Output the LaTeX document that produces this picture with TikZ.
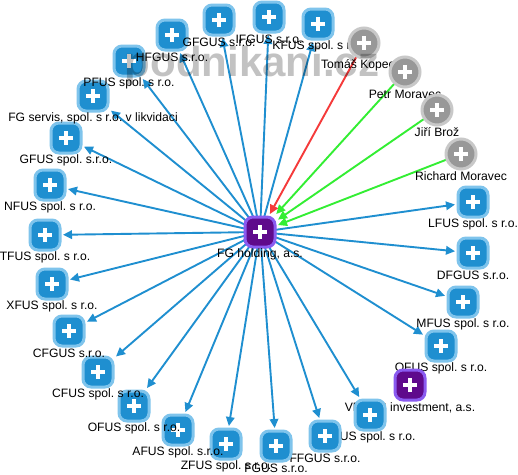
\documentclass[tikz,border=0pt]{standalone}
\usepackage{fontspec}
\setmainfont{Liberation Sans}
\usetikzlibrary{arrows.meta}
\tikzset{
 x=1pt,y=-1pt,
 org/.style={draw=boxedge,line width=3pt,fill=boxblue,rounded corners=8pt,minimum size=30pt,inner sep=0pt,outer sep=1.5pt},
 hold/.style={org,draw=holdedge,fill=holdfill},
 pers/.style={circle,draw=persedge,line width=3pt,fill=persfill,minimum size=30pt,inner sep=0pt,outer sep=1.5pt},
 lab/.style={font=\fontsize{12.15}{12.15}\selectfont,text=black,inner sep=0pt},
 own/.style={draw=boxblue,line width=1.9pt,-{Triangle[length=9pt,width=8.5pt]}},
 gr/.style={own,draw=lgreen},
 rd/.style={own,draw=lred},
 pl/.style={line width=3.6pt,white},
 anchorbox/.style={minimum size=36pt,inner sep=0pt,outer sep=0pt},
 anchorcirc/.style={circle,minimum size=36pt,inner sep=0pt,outer sep=0pt}
}
\definecolor{boxblue}{HTML}{1F8FD0}
\definecolor{boxedge}{HTML}{7FC4EC}
\definecolor{holdedge}{HTML}{8A5BF0}
\definecolor{holdfill}{HTML}{5F0A8C}
\definecolor{persedge}{HTML}{C8C8C8}
\definecolor{persfill}{HTML}{989898}
\definecolor{lgreen}{HTML}{33EE33}
\definecolor{lred}{HTML}{F53A3A}
\newcommand{\ent}[5]{% style, name, x, y, label
 \node[#1] (#2) at (#3,#4) {};
 \draw[pl] ([xshift=-7pt]#2.center) -- ([xshift=7pt]#2.center);
 \draw[pl] ([yshift=-7pt]#2.center) -- ([yshift=7pt]#2.center);
 \node[lab] (#2L) at (#3,#4+22.5) {#5};
}
\begin{document}
\frenchspacing
\begin{tikzpicture}
\useasboundingbox (0,0) rectangle (518,474);
\fill[white] (0,0) rectangle (518,474);
\node[anchorbox] (hub) at (260,232) {};
\foreach \n/\x/\y in {a/276/446,b/226/444,c/178/430,d/134/406,e/98/372,f/69/331,g/52/284,h/45/235,i/50/185,j/66/138,k/93/96,l/129/61,m/172/35,n/219/20,o/269/17,p/318/24,v/473/202,w/473/253,x/463/302,y/441/346,z/370/415,u/325/436}
 {\node[anchorbox] (t\n) at (\x,\y) {};
  \draw[own] (hub.center) -- (t\n);}
\foreach \n/\x/\y in {q/405/72,r/437/110,s/461/154}
 {\node[anchorcirc] (t\n) at (\x,\y) {};
  \draw[gr] (t\n.center) -- (hub);}
\node[anchorcirc] (tt) at (364,43) {};
\draw[rd] (tt.center) -- (hub);
\ent{org}{b}{226}{444}{ZFUS spol. s r.o.}
\ent{org}{c}{178}{430}{AFUS spol. s.r.o.}
\ent{org}{d}{134}{406}{OFUS spol. s r.o.}
\ent{org}{e}{98}{372}{CFUS spol. s r.o.}
\ent{org}{f}{69}{331}{CFGUS s.r.o.}
\ent{org}{g}{52}{284}{XFUS spol. s r.o.}
\ent{org}{h}{45}{235}{TFUS spol. s r.o.}
\ent{org}{i}{50}{185}{NFUS spol. s r.o.}
\ent{org}{j}{66}{138}{GFUS spol. s.r.o.}
\ent{org}{k}{93}{96}{FG servis, spol. s r.o. v likvidaci}
\ent{org}{l}{129}{61}{PFUS spol. s r.o.}
\ent{org}{m}{172}{35}{HFGUS s.r.o.}
\ent{org}{n}{219}{20}{GFGUS s.r.o.}
\ent{org}{o}{269}{17}{IFGUS s.r.o.}
\ent{org}{p}{318}{24}{KFUS spol. s r.o.}
\ent{pers}{t}{364}{43}{Tomáš Kopecký}
\ent{pers}{q}{405}{72}{Petr Moravec}
\ent{pers}{r}{437}{110}{Jiří Brož}
\ent{pers}{s}{461}{154}{Richard Moravec}
\ent{org}{v}{473}{202}{LFUS spol. s r.o.}
\ent{org}{w}{473}{253}{DFGUS s.r.o.}
\ent{org}{x}{463}{302}{MFUS spol. s r.o.}
\ent{org}{y}{441}{346}{OFUS spol. s r.o.}
\ent{hold}{vi}{410}{385}{VFGUS investment, a.s.}
\ent{org}{z}{370}{415}{EFUS spol. s r.o.}
\ent{org}{u}{325}{436}{FFGUS s.r.o.}
\ent{org}{a}{276}{446}{FGUS s.r.o.}
\ent{hold}{hubn}{260}{232}{FG holding, a.s.}
\node[font=\bfseries\fontsize{42}{42}\selectfont,text=black,opacity=.24,inner sep=0pt,anchor=base] (wm) at (252,76) {podnikani.cz};
\end{tikzpicture}
\end{document}
